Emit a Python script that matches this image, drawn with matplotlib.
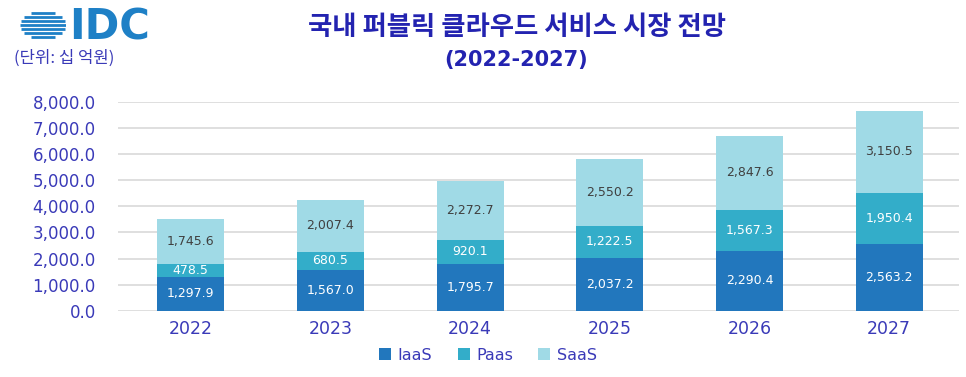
import matplotlib
matplotlib.use("Agg")
import matplotlib.pyplot as plt
import numpy as np
from matplotlib.ticker import FuncFormatter

plt.rcParams['font.family'] = ['Noto Sans CJK KR', 'DejaVu Sans']

years = ['2022', '2023', '2024', '2025', '2026', '2027']
iaas = [1297.9, 1567.0, 1795.7, 2037.2, 2290.4, 2563.2]
paas = [478.5, 680.5, 920.1, 1222.5, 1567.3, 1950.4]
saas = [1745.6, 2007.4, 2272.7, 2550.2, 2847.6, 3150.5]
series_names = ['IaaS', 'Paas', 'SaaS']
yticks = [0, 1000, 2000, 3000, 4000, 5000, 6000, 7000, 8000]

c_iaas = '#2277BD'
c_paas = '#33ADC9'
c_saas = '#A0DAE6'
txt = '#3A3AB8'

fig = plt.figure(figsize=(9.66, 3.77), dpi=100)
ax = fig.add_axes([0.1222, 0.1759, 0.8706, 0.5535])

x = np.arange(len(years))
w = 0.48
b1 = ax.bar(x, iaas, w, color=c_iaas, label=series_names[0], zorder=3)
b2 = ax.bar(x, paas, w, bottom=iaas, color=c_paas, label=series_names[1], zorder=3)
bot3 = [a + b for a, b in zip(iaas, paas)]
b3 = ax.bar(x, saas, w, bottom=bot3, color=c_saas, label=series_names[2], zorder=3)

fmt = lambda v: f'{v:,.1f}'
ax.bar_label(b1, labels=[fmt(v) for v in iaas], label_type='center', color='white', fontsize=9, family='DejaVu Sans')
ax.bar_label(b2, labels=[fmt(v) for v in paas], label_type='center', color='white', fontsize=9, family='DejaVu Sans')
ax.bar_label(b3, labels=[fmt(v) for v in saas], label_type='center', color='#404040', fontsize=9, family='DejaVu Sans')

ax.set_xlim(-0.52, 5.5)
ax.set_ylim(0, 8000)
ax.set_yticks(yticks)
ax.yaxis.set_major_formatter(FuncFormatter(lambda v, p: f'{v:,.1f}'))
ax.set_xticks(x)
ax.set_xticklabels(years)
for lab in ax.get_yticklabels():
    lab.set_family('DejaVu Sans')
    lab.set_color(txt)
    lab.set_fontsize(12)
for lab in ax.get_xticklabels():
    lab.set_family('DejaVu Sans')
    lab.set_color(txt)
    lab.set_fontsize(12.5)
ax.tick_params(axis='y', length=0, pad=16)
ax.tick_params(axis='x', length=0, pad=7)
ax.grid(axis='y', color='#D9D9D9', linewidth=1.2, zorder=0)
for s in ax.spines.values():
    s.set_visible(False)

leg = fig.legend(handles=[b1, b2, b3], loc='center', bbox_to_anchor=(0.505, 0.058), ncol=3,
                 frameon=False, handlelength=0.75, handleheight=0.75, handletextpad=0.4,
                 columnspacing=1.6, prop={'family': 'DejaVu Sans', 'size': 11.5})
for t in leg.get_texts():
    t.set_color(txt)

fig.text(0.535, 0.926, '국내 퍼블릭 클라우드 서비스 시장 전망', ha='center', va='center',
         fontsize=19, fontweight='bold', color='#2323B0')
fig.text(0.534, 0.841, '(2022-2027)', ha='center', va='center',
         fontsize=15, fontweight='bold', color='#2323B0', family='DejaVu Sans')
fig.text(0.014, 0.845, '(단위: 십 억원)', ha='left', va='center', fontsize=12, color=txt)

# IDC logo
fig.text(0.072, 0.928, 'IDC', ha='left', va='center', fontsize=30, fontweight='bold',
         color='#1E80C6', family='DejaVu Sans')
lax = fig.add_axes([0.021, 0.895, 0.047, 0.077])
lax.set_xlim(-1, 1)
lax.set_ylim(-1, 1)
lax.axis('off')
for yy in np.linspace(-0.85, 0.85, 7):
    half = np.sqrt(max(0, 1 - yy ** 2))
    lax.plot([-half, half], [yy, yy], color='#1E80C6', linewidth=2.0, solid_capstyle='butt')

fig.savefig('out.png', dpi=100)
